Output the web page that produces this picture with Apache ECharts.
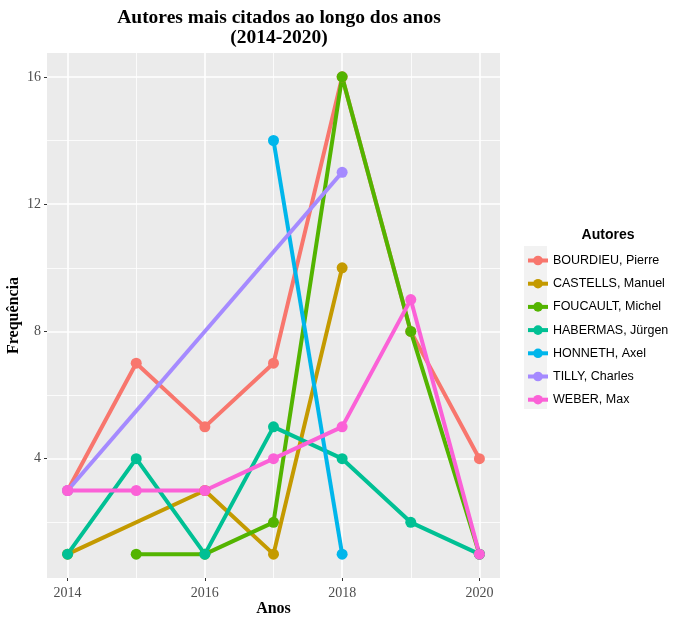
<!DOCTYPE html>
<html>
<head>
<meta charset="utf-8">
<script src="https://cdn.jsdelivr.net/npm/echarts@6/dist/echarts.min.js"></script>
<style>
  html, body { margin: 0; padding: 0; background: #fff; }
  #chart { width: 700px; height: 626px; }
</style>
</head>
<body>
<div id="chart"></div>
<script>
const years = [2014, 2015, 2016, 2017, 2018, 2019, 2020];
const authors = [
  'BOURDIEU, Pierre', 'CASTELLS, Manuel', 'FOUCAULT, Michel', 'HABERMAS, Jürgen',
  'HONNETH, Axel', 'TILLY, Charles', 'WEBER, Max'
];
const colors = ['#F8766D', '#C49A00', '#53B400', '#00C094', '#00B6EB', '#A58AFF', '#FB61D7'];

// null = author not cited that year
const bourdieu = [3, 7, 5, 7, 16, 8, 4];
const castells = [1, null, 3, 1, 10, null, null];
const foucault = [null, 1, 1, 2, 16, 8, 1];
const habermas = [1, 4, 1, 5, 4, 2, 1];
const honneth = [null, null, null, 14, 1, null, null];
const tilly = [3, null, null, null, 13, null, null];
const weber = [3, 3, 3, 4, 5, 9, 1];
const seriesValues = [bourdieu, castells, foucault, habermas, honneth, tilly, weber];

const xMajor = [2014, 2016, 2018, 2020];
const xMinor = [2015, 2017, 2019];
const yMajor = [4, 8, 12, 16];
const yMinor = [2, 6, 10, 14];

const serif = 'Liberation Serif';
const sans = 'Liberation Sans';

function pairs(values) {
  return years.map((y, i) => [y, values[i]]).filter((p) => p[1] !== null);
}

const chart = echarts.init(document.getElementById('chart'));

const grid = {
  left: 47, right: 200, top: 53, bottom: 48,
  outerBoundsMode: 'none', containLabel: false,
  show: true, backgroundColor: '#EBEBEB', borderWidth: 0
};
const xRange = { min: 2013.7, max: 2020.3 };
const yRange = { min: 0.25, max: 16.75 };

const lineSeries = authors.map((name, i) => ({
  name,
  type: 'line',
  data: pairs(seriesValues[i]),
  symbol: 'circle',
  symbolSize: 10,
  showSymbol: false,
  color: colors[i],
  lineStyle: { width: 4, color: colors[i] },
  itemStyle: { color: colors[i] },
  z: 3
}));

const pointSeries = authors.map((name, i) => ({
  name,
  type: 'scatter',
  data: pairs(seriesValues[i]),
  symbolSize: 11,
  itemStyle: { color: colors[i], opacity: 1 },
  z: 4
}));

chart.setOption({
  animation: false,
  title: [
    {
      text: 'Autores mais citados ao longo dos anos\n(2014-2020)',
      left: 274, top: 3, textAlign: 'center',
      textStyle: { fontFamily: serif, fontWeight: 'bold', fontSize: 19.5, color: '#000', lineHeight: 20 }
    },
    {
      text: 'Autores',
      left: 603, top: 223, textAlign: 'center',
      textStyle: { fontFamily: sans, fontWeight: 'bold', fontSize: 14, color: '#000' }
    }
  ],
  graphic: [
    { type: 'rect', left: 524, top: 246, shape: { width: 23, height: 163 }, style: { fill: '#F2F2F2' }, silent: true }
  ],
  legend: {
    orient: 'vertical',
    left: 521, top: 249,
    itemWidth: 20, itemHeight: 12,
    itemGap: 10.2,
    data: authors,
    lineStyle: { width: 4 },
    textStyle: { fontFamily: sans, fontSize: 12.5, color: '#000' },
    selectedMode: false
  },
  grid,
  xAxis: [
    {
      type: 'value', ...xRange,
      name: 'Anos', nameLocation: 'middle', nameGap: 23, nameMoveOverlap: false,
      nameTextStyle: { fontFamily: serif, fontWeight: 'bold', fontSize: 16, color: '#000' },
      axisLine: { show: false },
      axisTick: { show: true, length: 3, customValues: xMajor, lineStyle: { color: '#333' } },
      axisLabel: { customValues: xMajor, formatter: (v) => String(v), fontFamily: serif, fontSize: 14, color: '#4D4D4D', margin: 8 },
      splitLine: { show: true, lineStyle: { color: '#fff', width: 1.6 } },
      z: 2
    },
    {
      type: 'value', ...xRange,
      axisLine: { show: false },
      axisTick: { show: false, customValues: xMinor },
      axisLabel: { show: false, customValues: xMinor },
      splitLine: { show: true, lineStyle: { color: '#fff', width: 0.8 } },
      z: 1
    }
  ],
  yAxis: [
    {
      type: 'value', ...yRange,
      name: 'Frequência', nameLocation: 'middle', nameGap: 25, nameMoveOverlap: false,
      nameTextStyle: { fontFamily: serif, fontWeight: 'bold', fontSize: 16, color: '#000' },
      axisLine: { show: false },
      axisTick: { show: true, length: 3, customValues: yMajor, lineStyle: { color: '#333' } },
      axisLabel: { customValues: yMajor, fontFamily: serif, fontSize: 14, color: '#4D4D4D', margin: 6 },
      splitLine: { show: true, lineStyle: { color: '#fff', width: 1.6 } },
      z: 2
    },
    {
      type: 'value', ...yRange,
      axisLine: { show: false },
      axisTick: { show: false, customValues: yMinor },
      axisLabel: { show: false, customValues: yMinor },
      splitLine: { show: true, lineStyle: { color: '#fff', width: 0.8 } },
      z: 1
    }
  ],
  series: [...lineSeries, ...pointSeries]
});
</script>
</body>
</html>
